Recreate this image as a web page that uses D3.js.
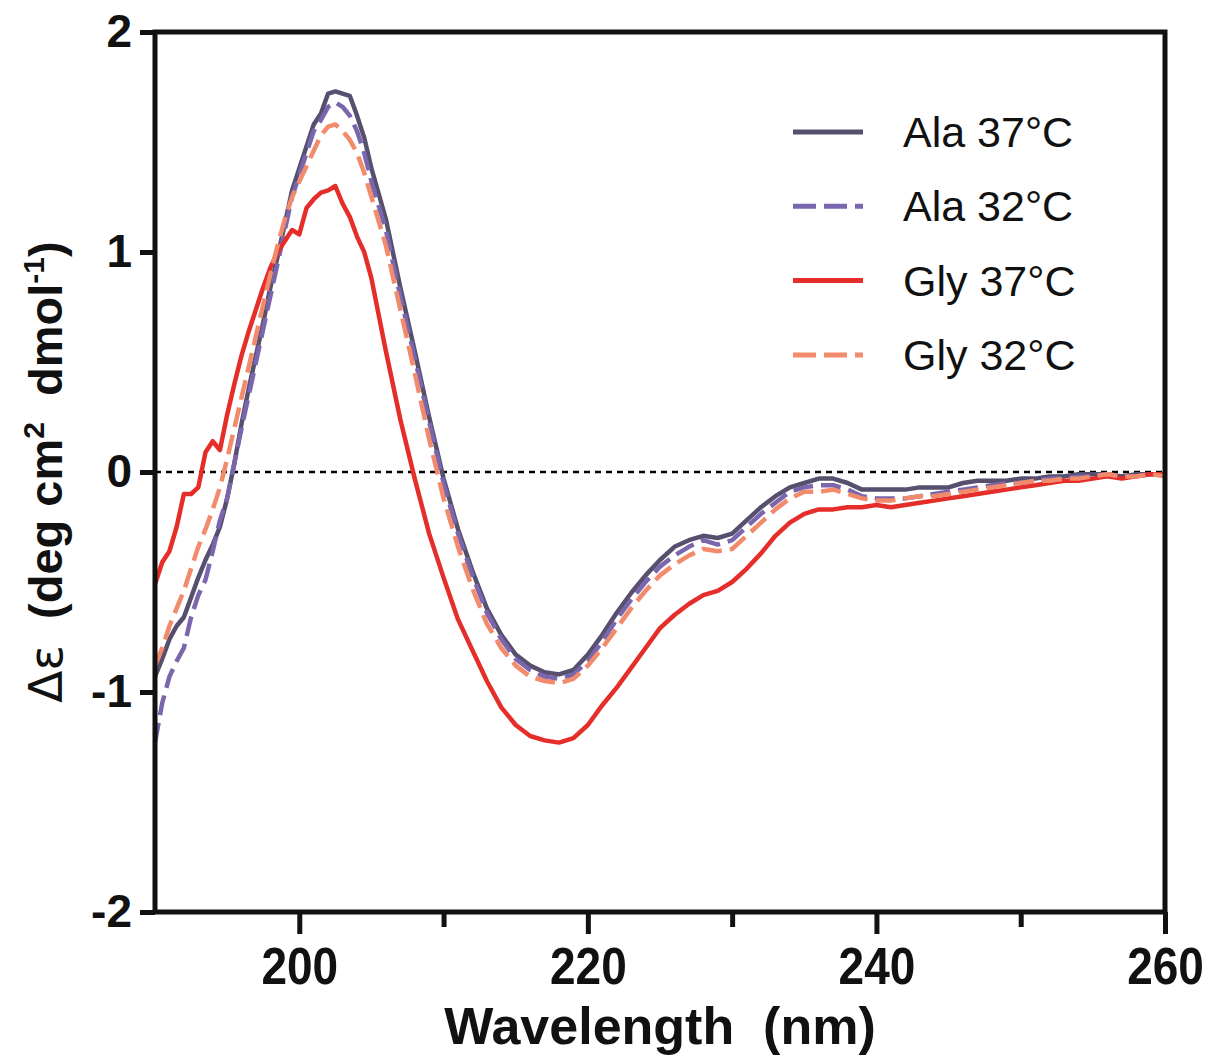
<!DOCTYPE html>
<html>
<head>
<meta charset="utf-8">
<script src="https://cdn.jsdelivr.net/npm/d3@7"></script>
<style>
  body { margin: 0; background: #fff; }
  text { font-family: "Liberation Sans", Arial, sans-serif; }
</style>
</head>
<body>
<div id="chart"></div>
<script>
// wavelength (nm): 0.5 nm steps up to 205, then 1 nm
const wavelengths = [
  190, 190.5, 191, 191.5, 192, 192.5, 193, 193.5, 194, 194.5, 195, 195.5, 196, 196.5, 197, 197.5,
  198, 198.5, 199, 199.5, 200, 200.5, 201, 201.5, 202, 202.5, 203, 203.5, 204, 204.5, 205,
  206, 207, 208, 209, 210, 211, 212, 213, 214, 215, 216, 217, 218, 219, 220,
  221, 222, 223, 224, 225, 226, 227, 228, 229, 230, 231, 232, 233, 234, 235,
  236, 237, 238, 239, 240, 241, 242, 243, 244, 245, 246, 247, 248, 249, 250,
  251, 252, 253, 254, 255, 256, 257, 258, 259, 260
];

const ala37 = [
  -0.93, -0.85, -0.76, -0.70, -0.66, -0.57, -0.48, -0.40, -0.33, -0.25, -0.12, 0.04, 0.22, 0.38, 0.53, 0.68,
  0.84, 0.98, 1.13, 1.28, 1.38, 1.48, 1.58, 1.63, 1.72, 1.73, 1.72, 1.71, 1.62, 1.52, 1.38,
  1.15, 0.84, 0.55, 0.25, -0.03, -0.26, -0.45, -0.62, -0.74, -0.83, -0.88, -0.91, -0.92, -0.90, -0.83,
  -0.74, -0.64, -0.55, -0.47, -0.40, -0.34, -0.31, -0.29, -0.30, -0.28, -0.22, -0.16, -0.11, -0.07, -0.05,
  -0.03, -0.03, -0.05, -0.08, -0.08, -0.08, -0.08, -0.07, -0.07, -0.07, -0.05, -0.04, -0.04, -0.04, -0.03,
  -0.03, -0.02, -0.02, -0.01, -0.01, -0.01, -0.02, -0.01, -0.01, -0.01
];

const ala32 = [
  -1.23, -1.05, -0.93, -0.86, -0.80, -0.66, -0.56, -0.49, -0.36, -0.22, -0.12, 0.04, 0.20, 0.35, 0.50, 0.65,
  0.80, 0.95, 1.10, 1.25, 1.35, 1.45, 1.55, 1.60, 1.66, 1.68, 1.66, 1.62, 1.55, 1.45, 1.32,
  1.10, 0.80, 0.52, 0.23, -0.05, -0.28, -0.47, -0.64, -0.76, -0.85, -0.90, -0.93, -0.94, -0.92, -0.86,
  -0.77, -0.67, -0.58, -0.50, -0.43, -0.38, -0.34, -0.31, -0.33, -0.31, -0.25, -0.19, -0.14, -0.09, -0.07,
  -0.06, -0.06, -0.08, -0.11, -0.12, -0.12, -0.12, -0.11, -0.10, -0.09, -0.08, -0.07, -0.06, -0.05, -0.05,
  -0.04, -0.03, -0.03, -0.02, -0.02, -0.01, -0.02, -0.02, -0.01, -0.01
];

const gly37 = [
  -0.51, -0.41, -0.36, -0.25, -0.10, -0.10, -0.07, 0.09, 0.14, 0.10, 0.26, 0.40, 0.53, 0.64, 0.74, 0.84,
  0.93, 1.00, 1.05, 1.10, 1.08, 1.20, 1.24, 1.27, 1.28, 1.30, 1.22, 1.16, 1.07, 1.00, 0.88,
  0.55, 0.24, -0.03, -0.28, -0.48, -0.67, -0.81, -0.95, -1.07, -1.15, -1.20, -1.22, -1.23, -1.21, -1.15,
  -1.06, -0.98, -0.89, -0.80, -0.71, -0.65, -0.60, -0.56, -0.54, -0.50, -0.44, -0.37, -0.29, -0.23, -0.19,
  -0.17, -0.17, -0.16, -0.16, -0.15, -0.16, -0.15, -0.14, -0.13, -0.12, -0.11, -0.10, -0.09, -0.08, -0.07,
  -0.06, -0.05, -0.04, -0.04, -0.03, -0.02, -0.03, -0.02, -0.01, -0.01
];

const gly32 = [
  -0.88, -0.80, -0.70, -0.62, -0.54, -0.44, -0.34, -0.26, -0.17, -0.07, 0.06, 0.20, 0.34, 0.48, 0.62, 0.76,
  0.90, 1.03, 1.15, 1.25, 1.32, 1.39, 1.46, 1.53, 1.57, 1.58, 1.55, 1.51, 1.45, 1.36, 1.25,
  1.03, 0.74, 0.45, 0.15, -0.12, -0.34, -0.53, -0.69, -0.80, -0.88, -0.93, -0.95, -0.96, -0.94, -0.88,
  -0.80, -0.71, -0.62, -0.54, -0.47, -0.42, -0.38, -0.35, -0.36, -0.35, -0.29, -0.23, -0.17, -0.12, -0.09,
  -0.09, -0.08, -0.10, -0.12, -0.13, -0.13, -0.12, -0.11, -0.11, -0.10, -0.09, -0.08, -0.07, -0.06, -0.05,
  -0.04, -0.04, -0.03, -0.03, -0.02, -0.01, -0.02, -0.02, -0.01, -0.02
];

const seriesNames = ["Ala 37°C", "Ala 32°C", "Gly 37°C", "Gly 32°C"];
const seriesValues = [ala37, ala32, gly37, gly32];
const seriesColors = ["#564f6e", "#7a66ad", "#e52d2a", "#f28b6c"];
const seriesDash = [null, "20,8", null, "20,8"];

const xMajorTicks = [200, 220, 240, 260];
const xMinorTicks = [210, 230, 250];
const yTicks = [-2, -1, 0, 1, 2];

const width = 1207;
const height = 1057;

const svg = d3.select("#chart")
  .append("svg")
  .attr("width", width)
  .attr("height", height);

const x = d3.scaleLinear().domain([190, 260]).range([155, 1165]);
const y = d3.scaleLinear().domain([-2, 2]).range([912, 32]);

// zero reference line
svg.append("line")
  .attr("x1", x(190)).attr("x2", x(260))
  .attr("y1", y(0)).attr("y2", y(0))
  .attr("stroke", "#000")
  .attr("stroke-width", 2.5)
  .attr("stroke-dasharray", "6,5");

const line = d3.line()
  .x((d, i) => x(wavelengths[i]))
  .y((d) => y(d));

svg.selectAll(".curve")
  .data(seriesValues)
  .enter()
  .append("path")
  .attr("class", "curve")
  .attr("d", line)
  .attr("fill", "none")
  .attr("stroke", (d, i) => seriesColors[i])
  .attr("stroke-width", 4.5)
  .attr("stroke-linejoin", "round")
  .attr("stroke-dasharray", (d, i) => seriesDash[i]);

// frame
svg.append("rect")
  .attr("x", x(190)).attr("y", y(2))
  .attr("width", x(260) - x(190))
  .attr("height", y(-2) - y(2))
  .attr("fill", "none")
  .attr("stroke", "#111")
  .attr("stroke-width", 5);

// y axis
const yAxis = svg.append("g")
  .attr("transform", `translate(${x(190)},0)`)
  .call(d3.axisLeft(y).tickValues(yTicks).tickSize(15).tickSizeOuter(0).tickPadding(8)
    .tickFormat((d) => String(d)));
yAxis.select(".domain").remove();
yAxis.selectAll(".tick line").attr("stroke", "#111").attr("stroke-width", 5);
yAxis.selectAll(".tick text")
  .attr("font-size", 46)
  .attr("font-weight", "bold")
  .attr("fill", "#111");

// x axis: minor ticks
const xMinor = svg.append("g")
  .attr("transform", `translate(0,${y(-2)})`)
  .call(d3.axisBottom(x).tickValues(xMinorTicks).tickSize(15).tickSizeOuter(0).tickFormat(""));
xMinor.select(".domain").remove();
xMinor.selectAll(".tick line").attr("stroke", "#111").attr("stroke-width", 5);

// x axis: major ticks
const xMajor = svg.append("g")
  .attr("transform", `translate(0,${y(-2)})`)
  .call(d3.axisBottom(x).tickValues(xMajorTicks).tickSize(22).tickSizeOuter(0)
    .tickFormat((d) => String(d)));
xMajor.select(".domain").remove();
xMajor.selectAll(".tick line").attr("stroke", "#111").attr("stroke-width", 5);
xMajor.selectAll(".tick text")
  .attr("font-size", 46)
  .attr("font-weight", "bold")
  .attr("fill", "#111")
  .attr("y", 32)
  .attr("transform", "scale(1,1.12)");

// x title
svg.append("text")
  .attr("x", (x(190) + x(260)) / 2)
  .attr("y", 1044)
  .attr("text-anchor", "middle")
  .attr("font-size", 52)
  .attr("font-weight", "bold")
  .attr("fill", "#111")
  .style("white-space", "pre")
  .text("Wavelength  (nm)");

// y title
const yTitle = svg.append("text")
  .attr("transform", `translate(62,${(y(2) + y(-2)) / 2}) rotate(-90)`)
  .attr("text-anchor", "middle")
  .attr("font-size", 47)
  .attr("fill", "#111")
  .style("white-space", "pre");
yTitle.append("tspan").attr("font-family", "DejaVu Sans").text("Δε");
yTitle.append("tspan").attr("font-weight", "bold").text("  (deg cm");
yTitle.append("tspan").attr("font-weight", "bold").attr("font-size", 30).attr("dy", -18).text("2");
yTitle.append("tspan").attr("font-weight", "bold").attr("dy", 18).text("  dmol");
yTitle.append("tspan").attr("font-weight", "bold").attr("font-size", 30).attr("dy", -18).text("-1");
yTitle.append("tspan").attr("font-weight", "bold").attr("dy", 18).text(")");

// legend
const legend = svg.append("g").attr("transform", "translate(793,132)");
const item = legend.selectAll(".item")
  .data(seriesNames)
  .enter()
  .append("g")
  .attr("class", "item")
  .attr("transform", (d, i) => `translate(0,${i * 74.3})`);
item.append("line")
  .attr("x1", 0).attr("x2", 70)
  .attr("stroke", (d, i) => seriesColors[i])
  .attr("stroke-width", 5)
  .attr("stroke-dasharray", (d, i) => (seriesDash[i] ? "23,8" : null));
item.append("text")
  .attr("x", 110)
  .attr("y", 15)
  .attr("font-size", 43)
  .attr("fill", "#111")
  .text((d) => d);
</script>
</body>
</html>
